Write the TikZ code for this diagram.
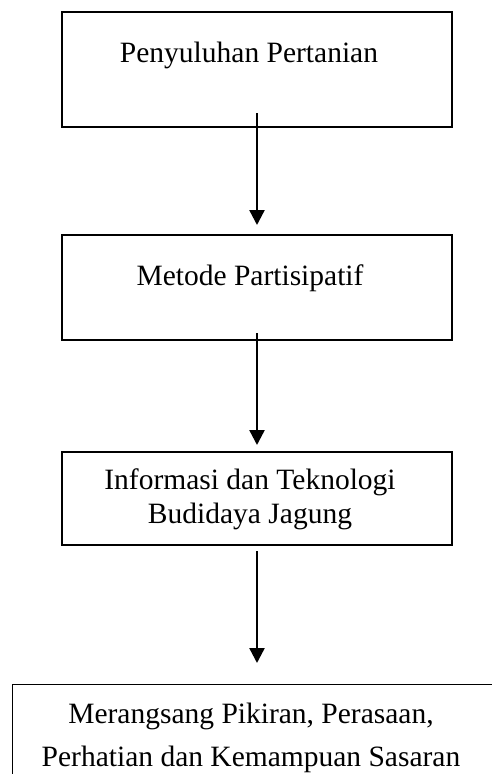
\documentclass[tikz,border=0pt]{standalone}
\usepackage{fontspec}
\setmainfont{Liberation Serif}
\usetikzlibrary{arrows.meta}
\tikzset{
  flowbox/.style={draw, line width=1.4pt, rectangle, minimum width=390pt, inner sep=0pt},
  boxtext/.style={anchor=base, inner sep=0pt, font=\fontsize{29.5}{34}\selectfont},
  flowarrow/.style={line width=2.4pt, -{Triangle[width=15pt,length=15pt]}}
}
\begin{document}
\begin{tikzpicture}[x=1pt,y=-1pt]
\useasboundingbox (0,0) rectangle (491,774);
% boxes
\node[flowbox, minimum height=115pt] (b1) at (257,69.5) {};
\node[flowbox, minimum height=105pt] (b2) at (257,287.5) {};
\node[flowbox, minimum height=93pt] (b3) at (257,498.5) {};
\node[flowbox, minimum width=486pt, minimum height=120pt, anchor=north west] (b4) at (12,684) {};
% texts
\node[boxtext] (t1) at (249,62) {Penyuluhan Pertanian};
\node[boxtext] (t2) at (250,285) {Metode Partisipatif};
\node[boxtext] (t3a) at (250,489) {Informasi dan Teknologi};
\node[boxtext] (t3b) at (250,523) {Budidaya Jagung};
\node[boxtext] (t4a) at (251,723) {Merangsang Pikiran, Perasaan,};
\node[boxtext] (t4b) at (251,766) {Perhatian dan Kemampuan Sasaran};
% arrow end points
\coordinate (a1s) at (257,113);
\coordinate (a1e) at (257,225);
\coordinate (a2s) at (257,333);
\coordinate (a2e) at (257,445);
\coordinate (a3s) at (257,551);
\coordinate (a3e) at (257,663);
\draw[flowarrow] (a1s) -- (a1e);
\draw[flowarrow] (a2s) -- (a2e);
\draw[flowarrow] (a3s) -- (a3e);
\end{tikzpicture}
\end{document}
